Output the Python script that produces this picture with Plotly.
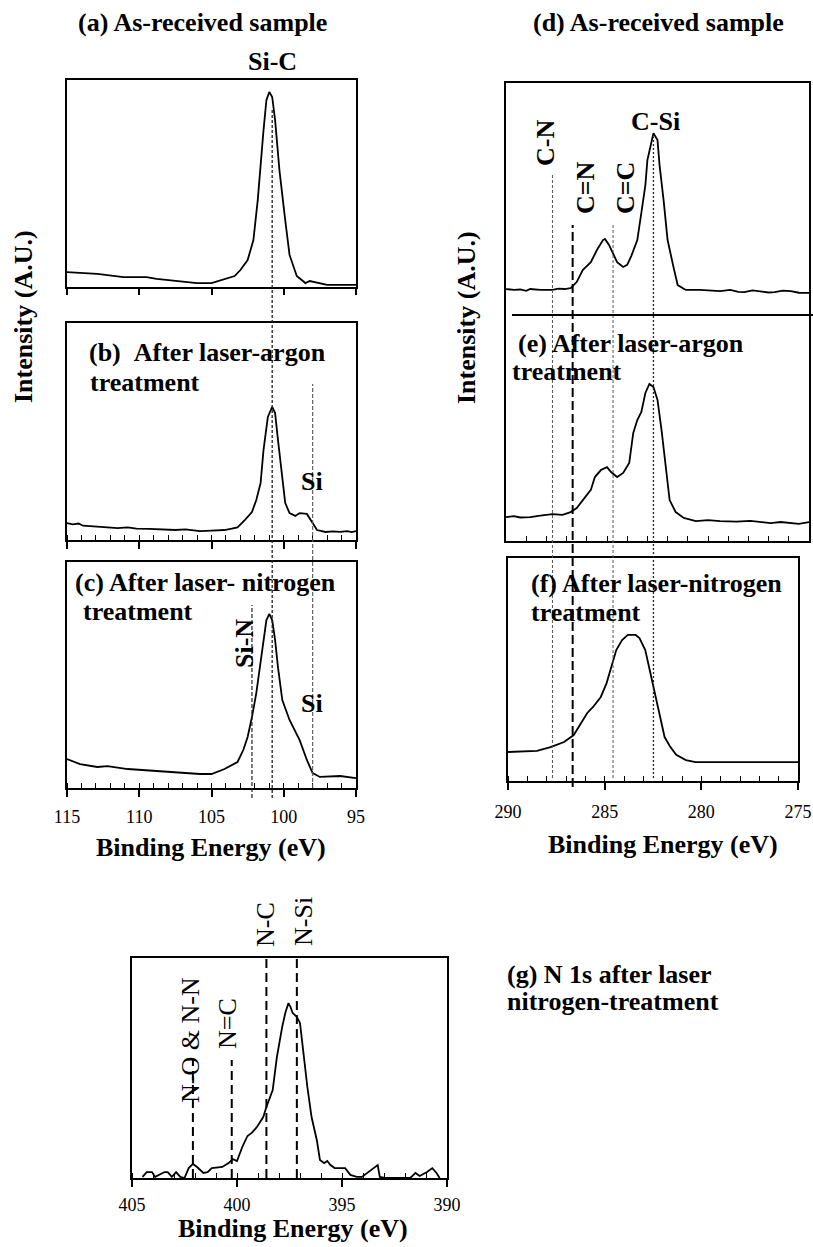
import plotly.graph_objects as go

# ---------------- data (binding energy in eV, intensity in arbitrary units) ----------------
E_a = [115.0, 112.9, 111.1, 109.5, 108.8, 106.0, 105.0, 104.1, 103.4, 103.0, 102.5, 102.1, 101.8,
       101.4, 101.2, 101.0, 100.8, 100.6, 100.3, 99.9, 99.6, 99.1, 98.5, 98.2, 97.5, 97.0, 95.0]
I_a = [0.072, 0.063, 0.048, 0.048, 0.039, 0.019, 0.019, 0.039, 0.053, 0.082, 0.130, 0.227, 0.420,
       0.758, 0.903, 0.942, 0.918, 0.807, 0.565, 0.324, 0.155, 0.053, 0.019, 0.029, 0.019, 0.010, 0.010]

E_b = [115.0, 114.6, 114.2, 113.9, 113.4, 112.7, 112.2, 111.5, 110.8, 110.2, 109.3, 108.6, 107.5,
       106.8, 105.8, 105.0, 104.1, 103.6, 103.2, 102.7, 102.2, 101.9, 101.6, 101.4, 101.1, 100.8,
       100.6, 100.4, 100.1, 99.9, 99.6, 99.2, 98.9, 98.4, 98.0, 97.7, 97.1, 96.6, 96.1, 95.6, 95.3, 95.0]
I_b = [0.078, 0.072, 0.076, 0.066, 0.064, 0.060, 0.058, 0.055, 0.058, 0.052, 0.051, 0.050, 0.046,
       0.049, 0.041, 0.043, 0.046, 0.052, 0.058, 0.092, 0.129, 0.184, 0.263, 0.415, 0.567, 0.613,
       0.585, 0.461, 0.290, 0.171, 0.124, 0.111, 0.124, 0.120, 0.078, 0.046, 0.037, 0.040, 0.037,
       0.041, 0.036, 0.041]

E_c = [115.0, 114.1, 112.9, 112.2, 110.8, 108.1, 105.8, 105.0, 104.1, 103.2, 102.8, 102.5, 102.2,
       101.9, 101.5, 101.2, 101.0, 100.8, 100.6, 100.4, 100.1, 99.6, 98.9, 98.4, 98.0, 97.5, 96.1, 95.0]
I_c = [0.128, 0.106, 0.093, 0.097, 0.084, 0.071, 0.062, 0.062, 0.084, 0.115, 0.168, 0.226, 0.314,
       0.420, 0.597, 0.743, 0.770, 0.743, 0.655, 0.535, 0.389, 0.301, 0.212, 0.124, 0.066, 0.049,
       0.053, 0.044]

E_d = [290.0, 289.6, 289.3, 289.0, 288.8, 288.3, 287.7, 287.4, 287.1, 286.8, 286.5, 286.2, 285.8,
       285.5, 285.2, 285.1, 284.9, 284.7, 284.5, 284.2, 284.0, 283.8, 283.5, 283.3, 283.1, 283.0,
       282.8, 282.7, 282.5, 282.4, 282.2, 282.0, 281.7, 281.5, 281.1, 280.4, 279.4, 278.9, 278.5,
       278.2, 277.8, 277.4, 277.0, 276.7, 276.3, 275.9, 275.5, 275.0]
I_d = [0.112, 0.108, 0.110, 0.104, 0.112, 0.108, 0.108, 0.114, 0.112, 0.116, 0.142, 0.194, 0.228,
       0.280, 0.323, 0.328, 0.302, 0.267, 0.228, 0.207, 0.216, 0.254, 0.323, 0.440, 0.560, 0.668,
       0.754, 0.784, 0.754, 0.647, 0.496, 0.323, 0.203, 0.129, 0.108, 0.108, 0.103, 0.108, 0.100,
       0.099, 0.106, 0.103, 0.097, 0.099, 0.105, 0.103, 0.096, 0.095]

E_e = [290.0, 289.6, 289.3, 288.8, 288.3, 287.7, 287.2, 286.8, 286.5, 286.2, 285.8, 285.6, 285.3,
       285.0, 284.8, 284.5, 284.2, 283.9, 283.7, 283.5, 283.3, 283.1, 282.9, 282.7, 282.5, 282.3,
       282.1, 281.9, 281.6, 281.2, 280.6, 280.0, 279.4, 278.6, 277.9, 277.4, 276.9, 276.4, 275.9,
       275.5, 275.0]
I_e = [0.106, 0.110, 0.104, 0.106, 0.112, 0.119, 0.116, 0.128, 0.146, 0.181, 0.226, 0.283, 0.314,
       0.327, 0.305, 0.283, 0.301, 0.345, 0.478, 0.535, 0.571, 0.655, 0.695, 0.681, 0.624, 0.491,
       0.345, 0.181, 0.128, 0.102, 0.088, 0.092, 0.088, 0.086, 0.089, 0.084, 0.079, 0.084, 0.080,
       0.076, 0.084]

E_f = [290.0, 288.5, 287.8, 287.1, 286.6, 286.3, 285.9, 285.6, 285.2, 284.9, 284.6, 284.4, 284.1,
       283.8, 283.4, 283.2, 282.9, 282.7, 282.4, 282.1, 281.9, 281.6, 281.3, 280.8, 280.3, 275.0]
I_f = [0.130, 0.135, 0.152, 0.175, 0.206, 0.251, 0.305, 0.332, 0.377, 0.439, 0.529, 0.587, 0.632,
       0.655, 0.655, 0.641, 0.587, 0.511, 0.395, 0.274, 0.197, 0.152, 0.117, 0.094, 0.085, 0.085]

E_g = [404.5, 404.3, 404.05, 403.9, 403.45, 403.3, 403.1, 402.9, 402.7, 402.5, 402.3, 402.1, 401.9,
       401.6, 401.4, 401.2, 400.7, 400.4, 400.2, 400.0, 399.75, 399.5, 399.3, 399.05, 398.75, 398.6,
       398.3, 398.1, 397.85, 397.7, 397.55, 397.45, 397.35, 397.15, 397.0, 396.85, 396.65, 396.45,
       396.2, 396.05, 395.85, 395.7, 395.55, 395.35, 394.85, 394.6, 394.3, 394.05, 393.8, 393.45,
       393.3, 393.2, 392.95, 391.75, 391.5, 391.3, 390.95, 390.7, 390.5, 390.35]
I_g = [0.005, 0.027, 0.027, 0.005, 0.027, 0.027, 0.005, 0.027, 0.005, 0.0, 0.045, 0.064, 0.050,
       0.023, 0.027, 0.045, 0.050, 0.068, 0.086, 0.077, 0.141, 0.191, 0.205, 0.232, 0.277, 0.323,
       0.400, 0.550, 0.686, 0.750, 0.795, 0.777, 0.750, 0.732, 0.705, 0.568, 0.414, 0.277, 0.173,
       0.082, 0.068, 0.077, 0.059, 0.045, 0.045, 0.014, 0.005, 0.005, 0.023, 0.050, 0.059, 0.005,
       0.0, 0.0, 0.023, 0.009, 0.027, 0.045, 0.023, 0.0]

# reference bond energies (eV)
SI_LINES = {"Si-C": 100.8, "Si": 98.0, "Si-N": 102.2}
C_LINES = {"C-N": 287.7, "C=N": 286.7, "C=C": 284.7, "C-Si": 282.7}
N_LINES = {"N-O & N-N": 402.1, "N=C": 400.25, "N-C": 398.6, "N-Si": 397.15}

RANGE_SI = [115, 95]
RANGE_C = [290, 275]
RANGE_N = [405, 390]

# ---------------- layout helpers ----------------
W, H = 813, 1247
SERIF = "Liberation Serif"


def px(x):
    return x / W


def py(y):
    return 1 - y / H


fig = go.Figure()

panels = [
    # n, data, x-range, box (x0, x1, ytop, ybottom)
    (1, E_a, I_a, RANGE_SI, (67, 356, 80, 287)),
    (2, E_b, I_b, RANGE_SI, (67, 356, 323, 540)),
    (3, E_c, I_c, RANGE_SI, (67, 356, 562, 788)),
    (4, E_d, I_d, RANGE_C, (506, 809, 83, 315)),
    (5, E_e, I_e, RANGE_C, (506, 809, 315, 541)),
    (6, E_f, I_f, RANGE_C, (508, 798, 558, 781)),
    (7, E_g, I_g, RANGE_N, (132, 447, 958, 1178)),
]
standoff = {3: 4, 6: 6, 7: 2}

layout = dict(
    template="none",
    width=W, height=H, autosize=False,
    margin=dict(l=0, r=0, t=0, b=0, pad=0),
    paper_bgcolor="white", plot_bgcolor="white",
    showlegend=False,
    font=dict(family=SERIF, color="black"),
)

tickfont = dict(family=SERIF, size=18, color="black")
minor_in = dict(ticks="inside", dtick=1, ticklen=5, tickwidth=1.2, tickcolor="black")

for n, E, I, rng, (x0, x1, yt, yb) in panels:
    sx = "" if n == 1 else str(n)
    fig.add_trace(go.Scatter(x=E, y=I, mode="lines",
                             line=dict(color="black", width=1.8),
                             xaxis="x" + sx, yaxis="y" + sx, hoverinfo="skip"))
    xa = dict(domain=[px(x0), px(x1)], range=rng, anchor="y" + sx, automargin=False,
              showline=True, linecolor="black", linewidth=2, mirror=True,
              showgrid=False, zeroline=False,
              ticks="outside", ticklen=7, tickwidth=1.5, tickcolor="black",
              tick0=0, dtick=5, showticklabels=False, tickfont=tickfont,
              ticklabelstandoff=standoff.get(n, 4))
    ya = dict(domain=[py(yb), py(yt)], range=[0, 1], anchor="x" + sx, automargin=False,
              showline=True, linecolor="black", linewidth=2, mirror=True,
              showgrid=False, zeroline=False, ticks="", showticklabels=False)
    if n == 1:
        xa["ticklen"] = 6
    if n in (2, 3, 6, 7):
        xa["minor"] = minor_in
    if n in (3, 6, 7):
        xa["showticklabels"] = True
    if n == 4:
        xa.update(side="top", mirror=False, ticks="")
    if n == 5:
        xa.update(mirror=False, ticks="inside", ticklen=5, dtick=1, tickwidth=1.2)
    layout["xaxis" + sx] = xa
    layout["yaxis" + sx] = ya

fig.update_layout(**layout)

# ---------------- reference lines ----------------
def vline(xref, xval, ytop, ybot, dash, width, color="black"):
    fig.add_shape(type="line", xref=xref, yref="paper", x0=xval, x1=xval,
                  y0=py(ybot), y1=py(ytop),
                  line=dict(color=color, width=width, dash=dash))


vline("x3", SI_LINES["Si-C"], 110, 798, "3px,2px", 1.3, "#222")
vline("x3", SI_LINES["Si"], 384, 788, "4px,2px", 1.1, "#555")
vline("x3", SI_LINES["Si-N"], 605, 798, "4px,2px", 1.2, "#222")

vline("x5", C_LINES["C-N"], 175, 778, "3px,2px", 1.0, "#555")
vline("x5", C_LINES["C=N"], 225, 787, "9px,4px", 2.0, "black")
vline("x5", C_LINES["C=C"], 223, 778, "3px,2px", 1.0, "#555")
vline("x5", C_LINES["C-Si"], 137, 778, "2px,2px", 1.3, "#222")

vline("x7", N_LINES["N-O & N-N"], 1060, 1178, "9px,5px", 2.0)
vline("x7", N_LINES["N=C"], 1060, 1178, "9px,5px", 2.0)
vline("x7", N_LINES["N-C"], 958, 1178, "9px,5px", 2.0)
vline("x7", N_LINES["N-Si"], 958, 1178, "9px,5px", 2.0)

# separator between (d) and (e)
fig.add_shape(type="line", xref="paper", yref="paper", x0=px(512), x1=px(813),
              y0=py(315), y1=py(315), line=dict(color="black", width=2))

# ---------------- text ----------------
def text(t, x, y, size=26, bold=True, xanchor="center", angle=0):
    fig.add_annotation(text=("<b>%s</b>" % t) if bold else t, x=px(x), y=py(y),
                       xref="paper", yref="paper", xanchor=xanchor, yanchor="middle",
                       showarrow=False, textangle=angle,
                       font=dict(family=SERIF, size=size, color="black"))


text("(a) As-received sample", 202, 22)
text("Si-C", 272, 61)
text("(b)\u00a0\u00a0After laser-argon", 87, 352, xanchor="left")
text("treatment", 88, 382, xanchor="left")
text("Si", 312, 482)
text("(c) After laser- nitrogen", 73, 582, xanchor="left")
text("treatment", 81, 612, xanchor="left")
text("Si-N", 244, 644, angle=-90)
text("Si", 312, 703)
text("Binding Energy (eV)", 211, 847)
text("Intensity (A.U.)", 23, 317, angle=-90)

text("(d) As-received sample", 658, 22)
text("C-Si", 655, 122)
text("C-N", 545, 143, angle=-90)
text("C=N", 585, 188, angle=-90)
text("C=C", 625, 188, angle=-90)
text("(e) After laser-argon", 516, 343, xanchor="left")
text("treatment", 510, 372, xanchor="left")
text("(f) After laser-nitrogen", 529, 583, xanchor="left")
text("treatment", 529, 613, xanchor="left")
text("Binding Energy (eV)", 663, 844)
text("Intensity (A.U.)", 466, 318, angle=-90)

text("N-O & N-N", 190, 1040, bold=False, angle=-90)
text("N=C", 227, 1024, bold=False, angle=-90)
text("N-C", 265, 925, bold=False, angle=-90)
text("N-Si", 303, 922, bold=False, angle=-90)
text("Binding Energy (eV)", 293, 1228)
text("(g) N 1s after laser", 505, 974, xanchor="left")
text("nitrogen-treatment", 505, 1001, xanchor="left")

fig.write_html("out.html")
